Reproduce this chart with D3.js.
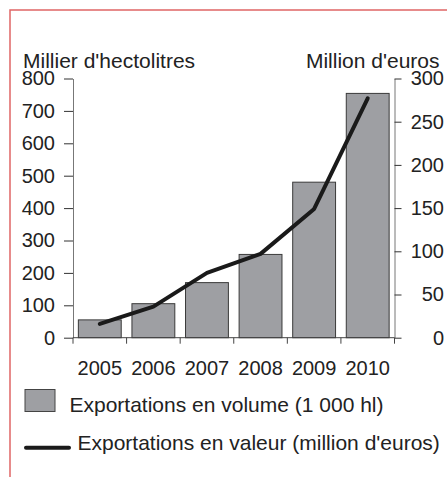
<!DOCTYPE html>
<html><head><meta charset="utf-8">
<script src="https://cdn.jsdelivr.net/npm/d3@7"></script>
<style>
html,body{margin:0;padding:0;background:#fff;}
text{font-family:"Liberation Sans",Arial,sans-serif;fill:#222;}
</style></head>
<body>
<svg id="c" width="447" height="477"></svg>
<script>
const years = ["2005","2006","2007","2008","2009","2010"];
const volume = [55, 105, 170, 257, 480, 754];      // 1 000 hl
const valeur = [16, 36, 75, 97, 149, 277];         // million d'euros
const leftTicks = [0,100,200,300,400,500,600,700,800];
const rightTicks = [0,50,100,150,200,250,300];
const leftTitle = "Millier d'hectolitres";
const rightTitle = "Million d'euros";
const legendLabels = ["Exportations en volume (1 000 hl)", "Exportations en valeur (million d'euros)"];

const svg = d3.select("#c");
const x0 = 73, x1 = 394.5, yb = 337.7, yt = 78.5;

// frame
svg.append("path").attr("d","M10,477 L10,10 L447,10")
  .attr("fill","none").attr("stroke","#e06666").attr("stroke-width",1.5);

const x = d3.scaleBand().domain(years).range([x0,x1]).paddingInner(0.2).paddingOuter(0.1);
const yL = d3.scaleLinear().domain([0,800]).range([yb,yt]);
const yR = d3.scaleLinear().domain([0,300]).range([yb,yt]);

const barFill = "#9e9fa3";
// bars
svg.append("g").selectAll("rect").data(years).join("rect")
  .attr("x", d=>x(d)).attr("width", x.bandwidth())
  .attr("y", (d,i)=>yL(volume[i])).attr("height",(d,i)=>yb-yL(volume[i]))
  .attr("fill",barFill).attr("stroke","#3a3a3a").attr("stroke-width",1);

// left axis
const gL = svg.append("g").attr("transform",`translate(${x0},0)`)
  .call(d3.axisLeft(yL).tickValues(leftTicks).tickSize(9).tickSizeOuter(0).tickPadding(9));
gL.selectAll("text").style("font-size","20px").attr("fill","#222");
// right axis
const gR = svg.append("g").attr("transform",`translate(${x1},0)`)
  .call(d3.axisRight(yR).tickValues(rightTicks).tickSize(7).tickSizeOuter(0));
gR.selectAll("text").style("font-size","20px").attr("fill","#222")
  .attr("text-anchor","end").attr("x",49.5);
[gL,gR].forEach(g=>{
  g.attr("font-family",null).attr("font-size",null);
  g.select(".domain").attr("stroke","#777");
  g.selectAll(".tick line").attr("stroke","#333");
});

// bottom axis: line + ticks at band boundaries
const bounds = d3.range(years.length+1).map(i=>x0 + i*x.step());
svg.append("line").attr("x1",x0).attr("x2",x1).attr("y1",yb).attr("y2",yb)
  .attr("stroke","#444");
svg.append("g").selectAll("line").data(bounds).join("line")
  .attr("x1",d=>d).attr("x2",d=>d).attr("y1",yb).attr("y2",yb+6)
  .attr("stroke","#444");
svg.append("g").selectAll("text").data(years).join("text")
  .attr("x",d=>x(d)+x.bandwidth()/2).attr("y",375)
  .attr("text-anchor","middle").style("font-size","20px").text(d=>d);

// line
const line = d3.line().x((d,i)=>x(years[i])+x.bandwidth()/2).y(d=>yR(d));
svg.append("path").datum(valeur).attr("d",line)
  .attr("fill","none").attr("stroke","#1a1a1a").attr("stroke-width",4)
  .attr("stroke-linejoin","round").attr("stroke-linecap","round");

// axis titles
svg.append("text").attr("x",23).attr("y",67.5).style("font-size","21px").text(leftTitle);
svg.append("text").attr("x",439.5).attr("y",67.5).attr("text-anchor","end").style("font-size","21px").text(rightTitle);

// legend
svg.append("rect").attr("x",25).attr("y",389.5).attr("width",30).attr("height",22)
  .attr("fill",barFill).attr("stroke","#444");
svg.append("text").attr("x",69.5).attr("y",411.5).style("font-size","21px").text(legendLabels[0]);
svg.append("line").attr("x1",26).attr("x2",69).attr("y1",447.7).attr("y2",447.7)
  .attr("stroke","#1a1a1a").attr("stroke-width",4).attr("stroke-linecap","round");
svg.append("text").attr("x",77.5).attr("y",449.5).style("font-size","21px").text(legendLabels[1]);
</script>
</body></html>
